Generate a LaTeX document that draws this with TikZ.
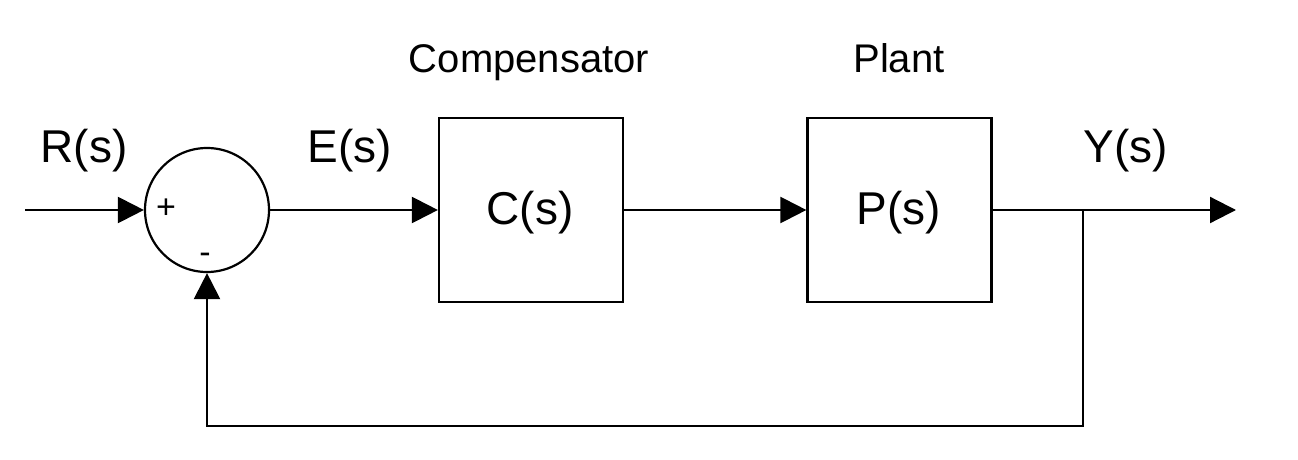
\documentclass[tikz,border=0pt]{standalone}
\usepackage{fontspec}
\setmainfont{Liberation Sans}
\usetikzlibrary{arrows.meta}
\begin{document}
\begin{tikzpicture}[x=1pt,y=-1pt, line width=2.2pt,
  >={Triangle[length=26pt,width=26pt]},
  lbl/.style={font=\fontsize{46}{50}\selectfont, anchor=base, inner sep=0pt},
  ttl/.style={font=\fontsize{40}{44}\selectfont, anchor=base, inner sep=0pt},
  sgn/.style={font=\fontsize{34}{34}\selectfont, inner sep=0pt},
  blockbox/.style={draw, minimum width=184pt, minimum height=184pt, inner sep=0pt},
  sumnode/.style={draw, circle, minimum size=124pt, inner sep=0pt}]
\useasboundingbox (0,0) rectangle (1298,460);

\node[sumnode] (sum) at (207,210) {};
\node[blockbox] (C) at (531,210) {};
\node[blockbox] (P) at (899.5,210) {};
\node[lbl] (Ct) at (530,224) {C(s)};
\node[lbl] (Pt) at (899,224) {P(s)};

\node[sgn] (plus) at (166,209) {+};
\node[sgn] (minus) at (205,258) {-};

\node[lbl] (R) at (84,162) {R(s)};
\node[lbl] (E) at (350,162) {E(s)};
\node[lbl] (Y) at (1126,162) {Y(s)};
\node[ttl] (comp) at (529,73) {Compensator};
\node[ttl] (plant) at (899,73) {Plant};

\coordinate (in) at (25,210);
\coordinate (out) at (1236,210);
\coordinate (br) at (1083,210);
\coordinate (fb) at (1083,426);

\draw[->] (in) -- (sum.west);
\draw[->] (sum.east) -- (C.west);
\draw[->] (C.east) -- (P.west);
\draw[->] (P.east) -- (out);
\draw[->] (br) -- (fb) -| (sum.south);
\end{tikzpicture}
\end{document}
